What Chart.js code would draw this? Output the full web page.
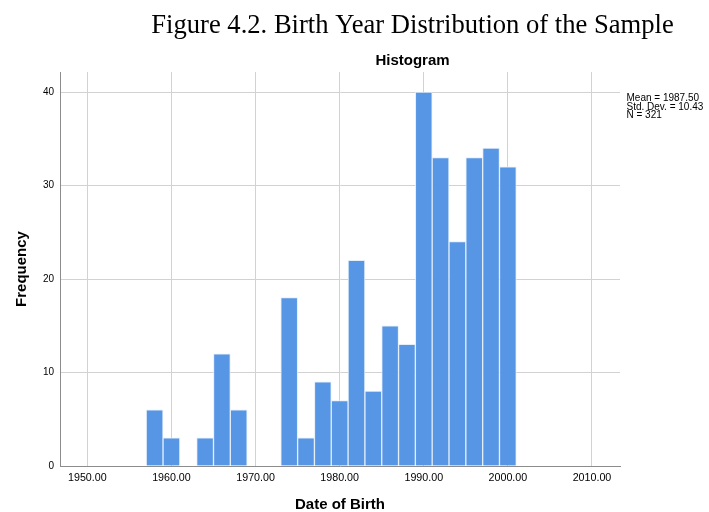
<!DOCTYPE html>
<html>
<head>
<meta charset="utf-8">
<script src="https://cdn.jsdelivr.net/npm/chart.js@4"></script>
<style>
  html, body { margin: 0; padding: 0; background: #fff; }
  #wrap { position: relative; width: 709px; height: 512px; }
  canvas { display: block; }
</style>
</head>
<body>
<div id="wrap"><canvas id="c" width="709" height="512"></canvas></div>
<script>
// ---- data ----
const captionText = "Figure 4.2. Birth Year Distribution of the Sample";
const chartTitle = "Histogram";
const binStarts   = [1957, 1959, 1961, 1963, 1965, 1967, 1969, 1971, 1973, 1975, 1977, 1979, 1981, 1983, 1985, 1987, 1989, 1991, 1993, 1995, 1997, 1999];
const frequencies = [6,    3,    0,    3,    12,   6,    0,    0,    18,   3,    9,    7,    22,   8,    15,   13,   40,   33,   24,   33,   34,   32];
const binWidth = 2;
const xTickValues = [1950, 1960, 1970, 1980, 1990, 2000, 2010];
const yTickValues = [0, 10, 20, 30, 40];
const statsLines = ["Mean = 1987.50", "Std. Dev. = 10.43", "N = 321"];
const xTitle = "Date of Birth";
const yTitle = "Frequency";

const points = binStarts.map((s, i) => ({ x: s + binWidth / 2, y: frequencies[i] }));

const textPlugin = {
  id: 'extraText',
  afterDraw(chart) {
    const ctx = chart.ctx;
    ctx.save();
    ctx.fillStyle = '#000';
    ctx.textAlign = 'center';
    ctx.textBaseline = 'alphabetic';
    ctx.font = '26.6px "Liberation Serif", "Times New Roman", serif';
    ctx.fillText(captionText, 412.5, 33.3);
    ctx.font = 'bold 15px "Liberation Sans", Arial, sans-serif';
    ctx.fillText(chartTitle, 412.5, 64.5);
    ctx.textAlign = 'left';
    ctx.textBaseline = 'middle';
    ctx.font = '10px "Liberation Sans", Arial, sans-serif';
    statsLines.forEach((t, i) => ctx.fillText(t, 626.5, 98.5 + i * 8.4));
    ctx.restore();
  }
};

new Chart(document.getElementById('c'), {
  type: 'bar',
  data: {
    datasets: [{
      data: points,
      backgroundColor: '#5796e5',
      borderColor: 'rgba(225,236,250,0.9)',
      borderWidth: 1,
      borderSkipped: 'bottom',
      barPercentage: 1,
      categoryPercentage: 1
    }]
  },
  options: {
    responsive: false,
    animation: false,
    layout: { padding: { top: 72, right: 89, left: 0, bottom: 0 } },
    plugins: { legend: { display: false }, tooltip: { enabled: false }, title: { display: false } },
    scales: {
      x: {
        type: 'linear',
        min: 1946.75,
        max: 2013.33,
        offset: false,
        afterBuildTicks: (s) => { s.ticks = xTickValues.map(v => ({ value: v })); },
        afterFit: (s) => { s.height = 46; },
        ticks: {
          color: '#000',
          padding: 6,
          maxRotation: 0,
          autoSkip: false,
          font: { family: '"Liberation Sans", Arial, sans-serif', size: 10.7 },
          callback: (v) => Number(v).toFixed(2)
        },
        grid: { color: '#d2d2d2', lineWidth: 1, drawTicks: false, offset: false },
        border: { display: true, color: '#8c8c8c', width: 1 },
        title: {
          display: true, text: xTitle, color: '#000',
          font: { family: '"Liberation Sans", Arial, sans-serif', size: 15, weight: 'bold', lineHeight: 1.0 },
          padding: { top: 0, bottom: 0 }
        }
      },
      y: {
        type: 'linear',
        min: 0,
        max: 42.14,
        afterBuildTicks: (s) => { s.ticks = yTickValues.map(v => ({ value: v })); },
        afterFit: (s) => { s.width = 60; },
        ticks: {
          color: '#000',
          padding: 6,
          font: { family: '"Liberation Sans", Arial, sans-serif', size: 10 }
        },
        grid: { color: '#d2d2d2', lineWidth: 1, drawTicks: false },
        border: { display: true, color: '#8c8c8c', width: 1 },
        title: {
          display: true, text: yTitle, color: '#000',
          font: { family: '"Liberation Sans", Arial, sans-serif', size: 15, weight: 'bold', lineHeight: 1.0 },
          padding: { top: 14, bottom: 0 }
        }
      }
    }
  },
  plugins: [textPlugin]
});
</script>
</body>
</html>
